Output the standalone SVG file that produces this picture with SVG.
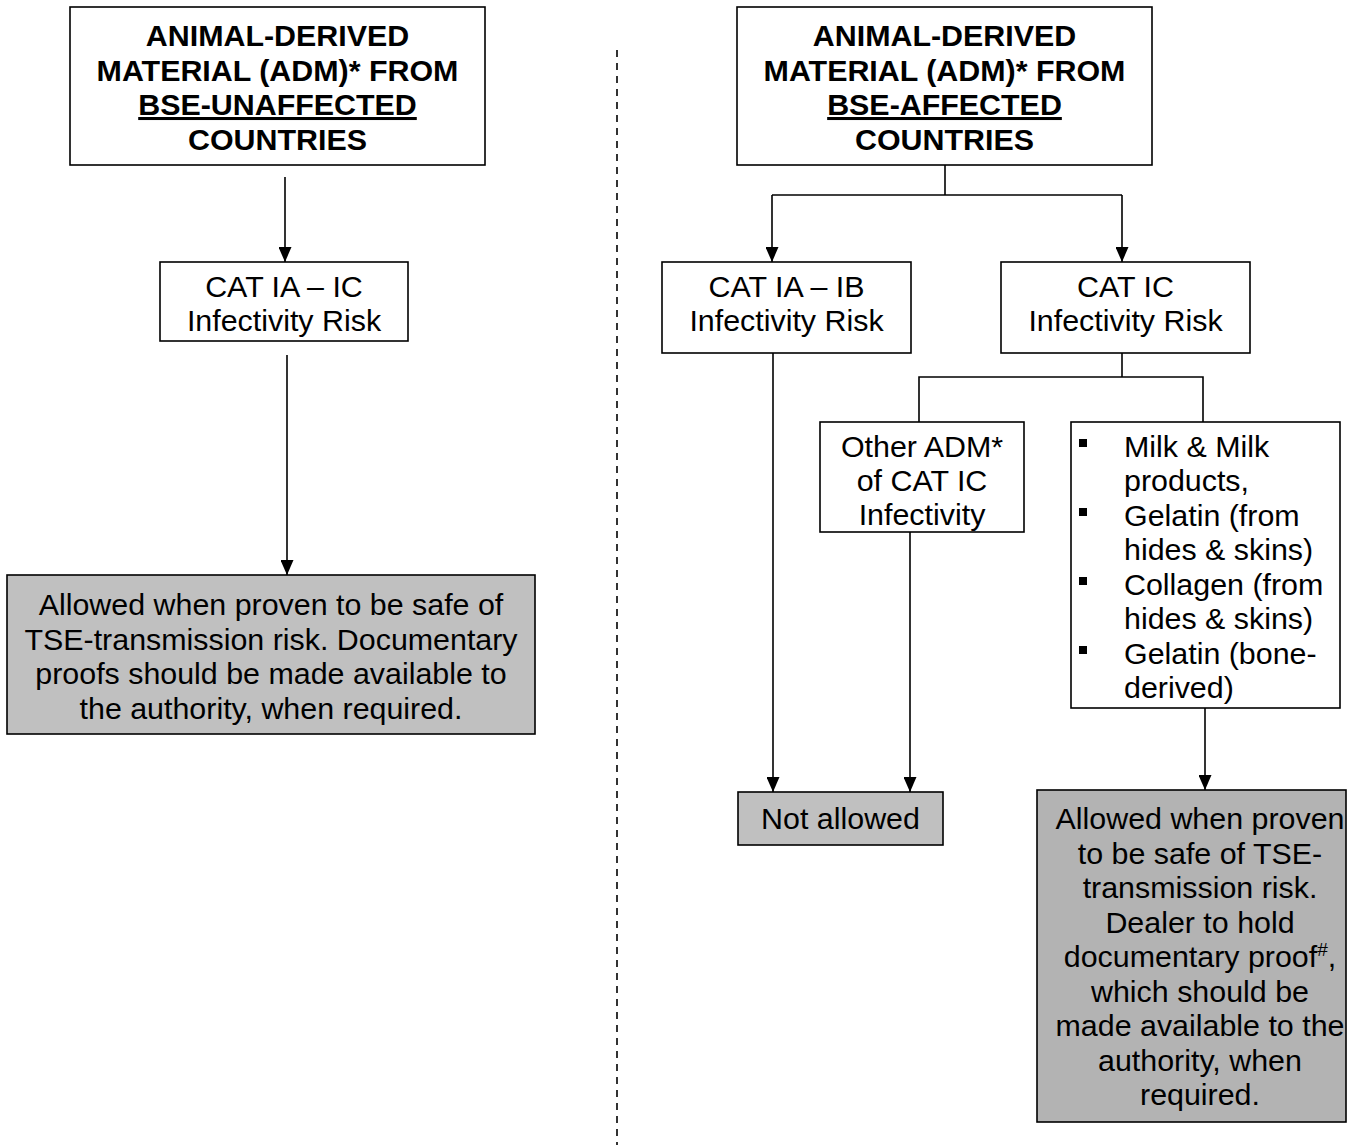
<svg xmlns="http://www.w3.org/2000/svg" width="1364" height="1145" viewBox="0 0 1364 1145">
<style>
.box{fill:#ffffff;stroke:#000;stroke-width:1.6}
.grey{fill:#c0c0c0;stroke:#000;stroke-width:1.6}
.grey2{fill:#b3b3b3;stroke:#000;stroke-width:1.6}
.t{font-family:"Liberation Sans",Arial,sans-serif;font-size:30.4px;fill:#000;text-anchor:middle}
.b{font-weight:bold}
.l{text-anchor:start}
.c{fill:none;stroke:#000;stroke-width:1.6}
</style>
<defs>
<marker id="arr" markerUnits="userSpaceOnUse" markerWidth="15" markerHeight="13" viewBox="0 0 15 13" refX="15" refY="6.5" orient="auto">
<path d="M0,0 L15,6.5 L0,13 z" fill="#000"/>
</marker>
</defs>
<rect width="1364" height="1145" fill="#fff"/>
<g id="connectors">
<line class="c" x1="617" y1="50" x2="617" y2="1145" stroke-dasharray="7,6"/>
<line class="c" x1="285" y1="177" x2="285" y2="262" marker-end="url(#arr)"/>
<line class="c" x1="287" y1="355" x2="287" y2="575" marker-end="url(#arr)"/>
<polyline class="c" points="945,165 945,195"/>
<polyline class="c" points="772,195 1122,195"/>
<line class="c" x1="772" y1="195" x2="772" y2="262" marker-end="url(#arr)"/>
<line class="c" x1="1122" y1="195" x2="1122" y2="262" marker-end="url(#arr)"/>
<line class="c" x1="1122" y1="353" x2="1122" y2="377"/>
<polyline class="c" points="919,422 919,377 1203,377 1203,422"/>
<line class="c" x1="773" y1="353" x2="773" y2="792" marker-end="url(#arr)"/>
<line class="c" x1="910" y1="532" x2="910" y2="792" marker-end="url(#arr)"/>
<line class="c" x1="1205" y1="700" x2="1205" y2="790" marker-end="url(#arr)"/>
</g>
<g id="top-left">
<rect class="box" x="70" y="7" width="415" height="158"/>
<text class="t b" x="277.5" y="46">ANIMAL-DERIVED</text>
<text class="t b" x="277.5" y="80.5">MATERIAL (ADM)* FROM</text>
<text class="t b" x="277.5" y="115" text-decoration="underline">BSE-UNAFFECTED</text>
<text class="t b" x="277.5" y="149.5">COUNTRIES</text>
</g>
<g id="cat-ia-ic">
<rect class="box" x="160" y="262" width="248" height="79"/>
<text class="t" x="284" y="297">CAT IA – IC</text>
<text class="t" x="284" y="331">Infectivity Risk</text>
</g>
<g id="allowed-left">
<rect class="grey" x="7" y="575" width="528" height="159"/>
<text class="t" x="271" y="615">Allowed when proven to be safe of</text>
<text class="t" x="271" y="649.5">TSE-transmission risk. Documentary</text>
<text class="t" x="271" y="684">proofs should be made available to</text>
<text class="t" x="271" y="718.5">the authority, when required.</text>
</g>
<g id="top-right">
<rect class="box" x="737" y="7" width="415" height="158"/>
<text class="t b" x="944.5" y="46">ANIMAL-DERIVED</text>
<text class="t b" x="944.5" y="80.5">MATERIAL (ADM)* FROM</text>
<text class="t b" x="944.5" y="115" text-decoration="underline">BSE-AFFECTED</text>
<text class="t b" x="944.5" y="149.5">COUNTRIES</text>
</g>
<g id="cat-ia-ib">
<rect class="box" x="662" y="262" width="249" height="91"/>
<text class="t" x="786.5" y="297">CAT IA – IB</text>
<text class="t" x="786.5" y="331">Infectivity Risk</text>
</g>
<g id="cat-ic">
<rect class="box" x="1001" y="262" width="249" height="91"/>
<text class="t" x="1125.5" y="297">CAT IC</text>
<text class="t" x="1125.5" y="331">Infectivity Risk</text>
</g>
<g id="other-adm">
<rect class="box" x="820" y="422" width="204" height="110"/>
<text class="t" x="922" y="457">Other ADM*</text>
<text class="t" x="922" y="491">of CAT IC</text>
<text class="t" x="922" y="525">Infectivity</text>
</g>
<g id="bullets">
<rect class="box" x="1071" y="422" width="269" height="286"/>
<rect x="1079" y="439" width="8" height="8" fill="#000"/>
<rect x="1079" y="508" width="8" height="8" fill="#000"/>
<rect x="1079" y="577" width="8" height="8" fill="#000"/>
<rect x="1079" y="646" width="8" height="8" fill="#000"/>
<text class="t l" x="1124" y="457">Milk &amp; Milk</text>
<text class="t l" x="1124" y="491">products,</text>
<text class="t l" x="1124" y="525.5">Gelatin (from</text>
<text class="t l" x="1124" y="560">hides &amp; skins)</text>
<text class="t l" x="1124" y="594.5">Collagen (from</text>
<text class="t l" x="1124" y="629">hides &amp; skins)</text>
<text class="t l" x="1124" y="663.5">Gelatin (bone-</text>
<text class="t l" x="1124" y="698">derived)</text>
</g>
<g id="not-allowed">
<rect class="grey" x="738" y="792" width="205" height="53"/>
<text class="t" x="840.5" y="829">Not allowed</text>
</g>
<g id="allowed-right">
<rect class="grey2" x="1037" y="790" width="309" height="332"/>
<text class="t" x="1200" y="829">Allowed when proven</text>
<text class="t" x="1200" y="863.5">to be safe of TSE-</text>
<text class="t" x="1200" y="898">transmission risk.</text>
<text class="t" x="1200" y="932.5">Dealer to hold</text>
<text class="t" x="1200" y="967">documentary proof<tspan font-size="19" dy="-11">#</tspan><tspan dy="11">,</tspan></text>
<text class="t" x="1200" y="1001.5">which should be</text>
<text class="t" x="1200" y="1036">made available to the</text>
<text class="t" x="1200" y="1070.5">authority, when</text>
<text class="t" x="1200" y="1105">required.</text>
</g>
</svg>
